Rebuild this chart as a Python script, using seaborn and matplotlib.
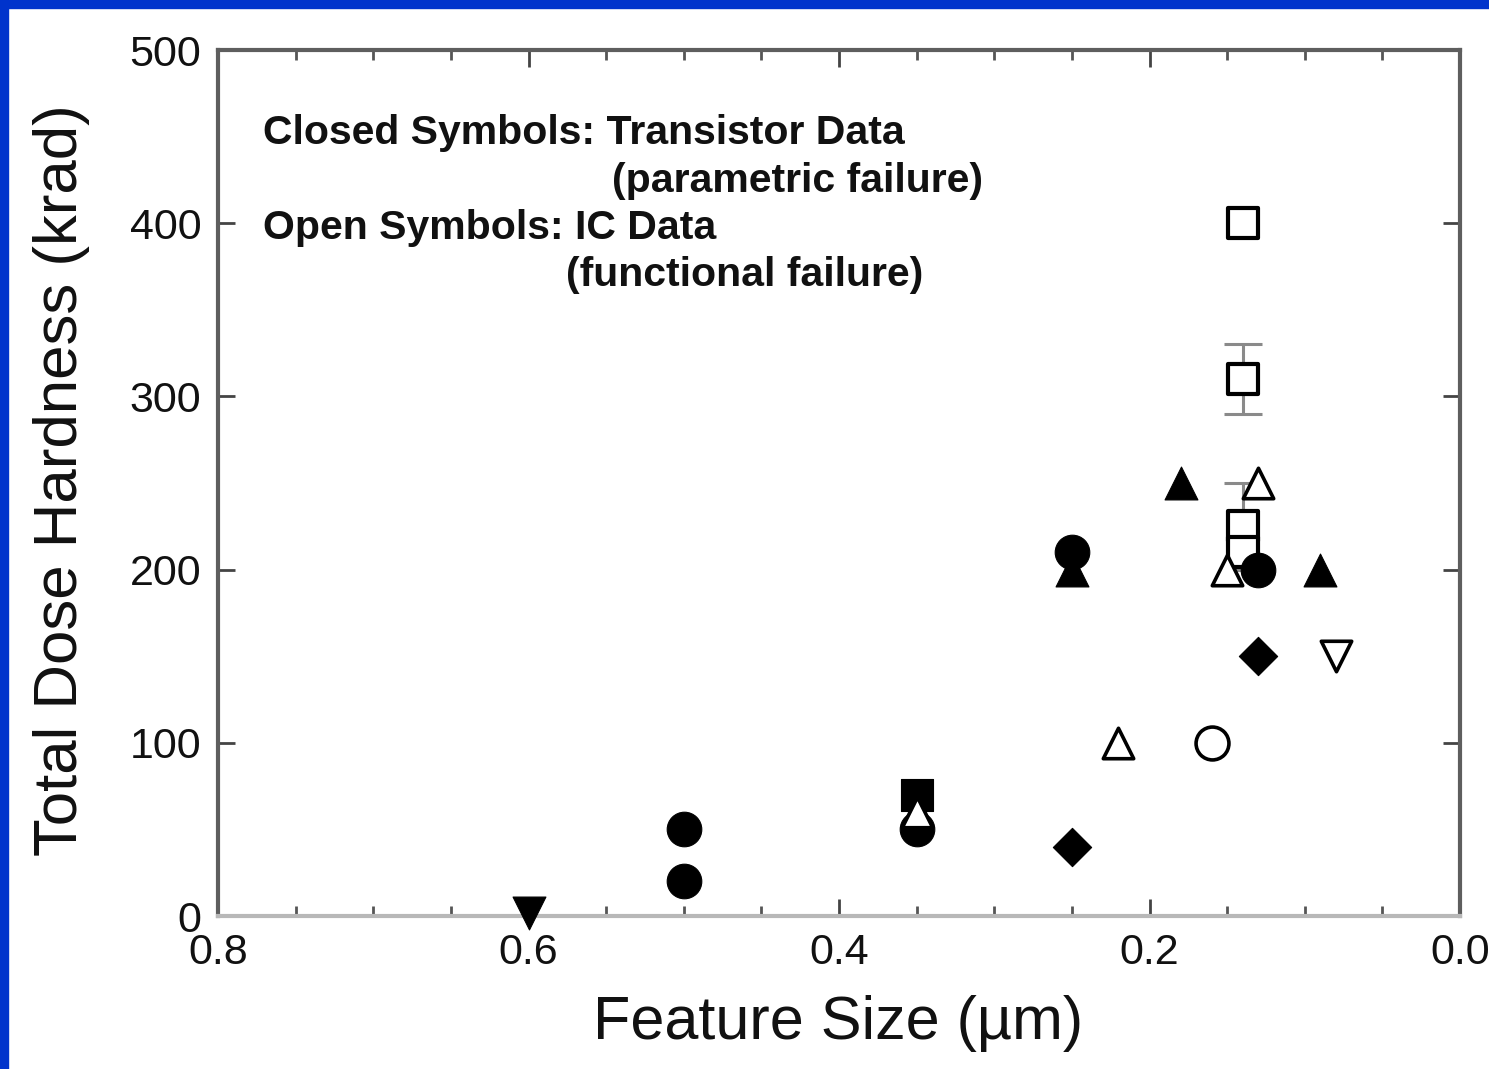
import matplotlib
matplotlib.use("Agg")
import matplotlib.pyplot as plt
from matplotlib.patches import Rectangle
from matplotlib.ticker import MultipleLocator
import seaborn as sns
import pandas as pd

# ---- data (feature size in um, total dose hardness in krad) ----
closed_square_x = [0.35]
closed_square_y = [70]
closed_circle_x = [0.5, 0.5, 0.35, 0.25, 0.13]
closed_circle_y = [50, 20, 50, 210, 200]
closed_triangle_x = [0.25, 0.18, 0.09]
closed_triangle_y = [200, 250, 200]
closed_diamond_x = [0.25, 0.13]
closed_diamond_y = [40, 150]
closed_down_x = [0.6]
closed_down_y = [2]
open_square_x = [0.14, 0.14, 0.14, 0.14]
open_square_y = [400, 310, 225, 210]
open_triangle_x = [0.35, 0.22, 0.15, 0.13]
open_triangle_y = [60, 100, 200, 250]
open_circle_x = [0.16]
open_circle_y = [100]
open_down_x = [0.08]
open_down_y = [150]
errbar_x = [0.14, 0.14]
errbar_y = [310, 225]
errbar_err = [20, 25]

x_ticks = [0.8, 0.6, 0.4, 0.2, 0.0]
x_ticklabels = ["0.8", "0.6", "0.4", "0.2", "0.0"]
y_ticks = [0, 100, 200, 300, 400, 500]
y_ticklabels = ["0", "100", "200", "300", "400", "500"]

note_lines = ["Closed Symbols: Transistor Data", "(parametric failure)",
              "Open Symbols: IC Data", "(functional failure)"]

sns.set_style("ticks")
plt.rcParams["font.family"] = ["Liberation Sans", "DejaVu Sans"]

fig = plt.figure(figsize=(14.89, 10.69), dpi=100)
ax = fig.add_axes([218 / 1489, 1 - 916 / 1069, 1242 / 1489, 866 / 1069])

frame = "#5e5e5e"

# error bars
ax.errorbar(errbar_x, errbar_y, yerr=errbar_err, fmt="none", ecolor="#8a8a8a",
            elinewidth=2.2, capsize=14, capthick=2.2, zorder=2)


def draw(xs, ys, marker, s, filled, z, lw=None):
    df = pd.DataFrame({"x": xs, "y": ys})
    if filled:
        sns.scatterplot(data=df, x="x", y="y", ax=ax, marker=marker, s=s,
                        color="black", edgecolor="black", linewidth=0.8 if lw is None else lw,
                        zorder=z, clip_on=False, legend=False)
    else:
        sns.scatterplot(data=df, x="x", y="y", ax=ax, marker=marker, s=s,
                        color="white", edgecolor="black", linewidth=3.0 if lw is None else lw,
                        zorder=z, clip_on=False, legend=False)


draw(closed_square_x, closed_square_y, "s", 560, True, 3)
draw(open_square_x, open_square_y, "s", 480, False, 3)
draw(closed_circle_x, closed_circle_y, "o", 620, True, 4)
draw(closed_triangle_x, closed_triangle_y, "^", 560, True, 4)
draw(closed_diamond_x, closed_diamond_y, "D", 380, True, 4)
draw(closed_down_x, closed_down_y, "v", 560, True, 4)
draw(open_circle_x, open_circle_y, "o", 560, False, 4, lw=2.6)
draw(open_down_x, open_down_y, "v", 480, False, 4, lw=2.6)
draw(open_triangle_x, open_triangle_y, "^", 480, False, 5, lw=2.6)

ax.set_xlim(0.8, 0.0)
ax.set_ylim(0, 500)
ax.set_xticks(x_ticks)
ax.set_xticklabels(x_ticklabels)
ax.set_yticks(y_ticks)
ax.set_yticklabels(y_ticklabels)
ax.xaxis.set_minor_locator(MultipleLocator(0.05))

ax.tick_params(axis="both", which="major", direction="in", length=12, width=2,
               color="#444444", labelsize=31, top=True, right=True, pad=12,
               labelcolor="#111111")
ax.tick_params(axis="x", which="minor", direction="in", length=7, width=2,
               color="#555555", top=True)

for side in ["left", "top", "right"]:
    ax.spines[side].set_color(frame)
    ax.spines[side].set_linewidth(3)
ax.spines["bottom"].set_color("#b8b8b8")
ax.spines["bottom"].set_linewidth(3)

ax.set_xlabel("Feature Size (\u00b5m)", fontsize=44, color="#111111")
ax.set_ylabel("Total Dose Hardness (krad)", fontsize=44.5, color="#111111")
ax.xaxis.set_label_coords(0.499, -0.091)
ax.yaxis.set_label_coords(-0.103, 0.503)

note_pos = [(0.036, 0.904), (0.317, 0.849), (0.036, 0.794), (0.280, 0.740)]
for txt, (px, py) in zip(note_lines, note_pos):
    ax.text(px, py, txt, transform=ax.transAxes, fontsize=29.5, fontweight="bold",
            ha="left", va="center", color="#111111")

# blue frame bands (top and left)
fig.patches.append(Rectangle((0, 1 - 8 / 1069), 1, 8 / 1069, transform=fig.transFigure,
                             color="#0033cc", zorder=10))
fig.patches.append(Rectangle((0, 0), 8 / 1489, 1, transform=fig.transFigure,
                             color="#0033cc", zorder=10))

fig.savefig("out.png", dpi=100)
